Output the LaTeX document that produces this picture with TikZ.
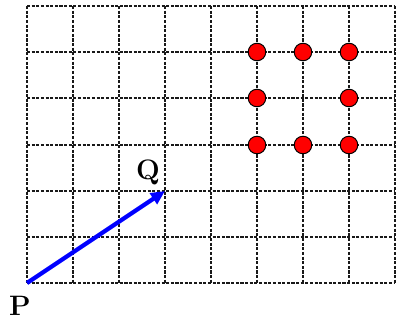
\documentclass[tikz,border=0pt]{standalone}
\usetikzlibrary{arrows.meta}
\begin{document}
\begin{tikzpicture}[x=0.25mm,y=-0.25mm,
  gridline/.style={line width=1.3pt,dash pattern=on 2.2pt off 1.1pt,black!90},
  reddot/.style={circle,fill=red,draw=black,line width=0.7pt,minimum size=12.5pt,inner sep=0pt},
  vec/.style={blue,line width=3pt,-{Triangle[length=10pt,width=9pt]}},
  lbl/.style={font=\fontsize{20}{20}\selectfont\bfseries,inner sep=0pt}]
\useasboundingbox (0,0) rectangle (400,322);
% grid
\foreach \x in {27,73,119,165,211,257,303,349,395} {
  \draw[gridline] (\x,6) -- (\x,283);
}
\foreach \y in {6,52,98,145,191,237,283} {
  \draw[gridline] (27,\y) -- (395,\y);
}
% dots
\node[reddot] (d1) at (257,52) {};
\node[reddot] (d2) at (303,52) {};
\node[reddot] (d3) at (349,52) {};
\node[reddot] (d4) at (257,98) {};
\node[reddot] (d5) at (349,98) {};
\node[reddot] (d6) at (257,145) {};
\node[reddot] (d7) at (303,145) {};
\node[reddot] (d8) at (349,145) {};
% vector
\coordinate (p) at (27,283);
\coordinate (q) at (165,191);
\draw[vec] (p) -- (q);
\node[lbl] (P) at (20,306) {P};
\node[lbl] (Q) at (148,172) {Q};
\end{tikzpicture}
\end{document}
